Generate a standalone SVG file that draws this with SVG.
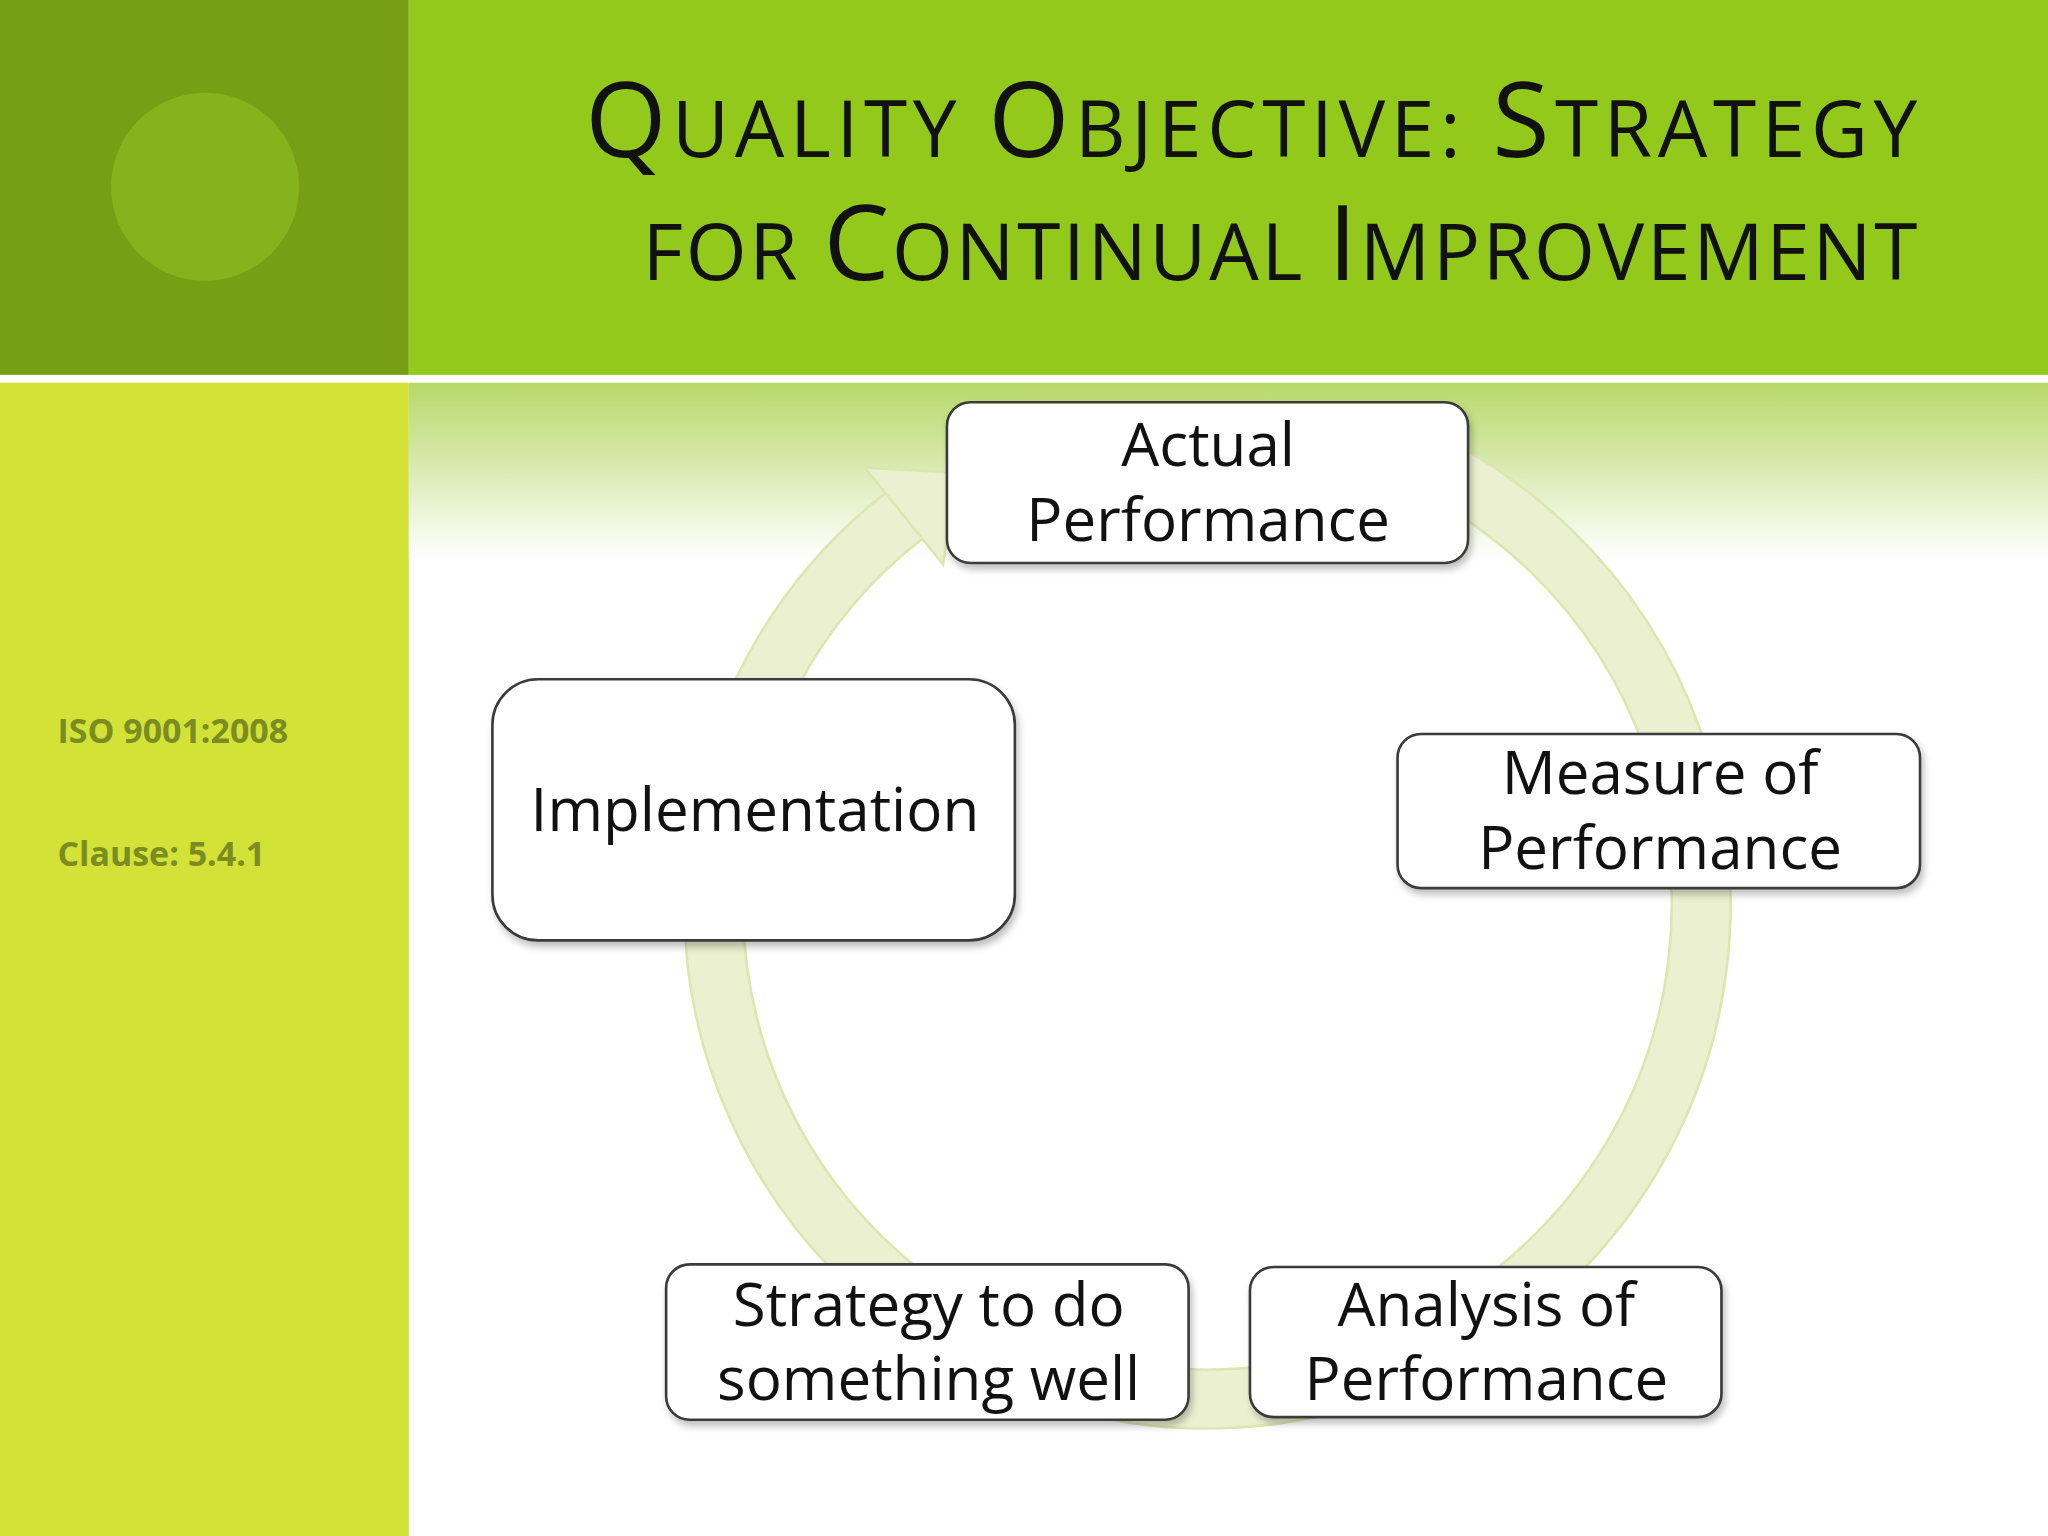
<svg xmlns="http://www.w3.org/2000/svg" width="2048" height="1536" viewBox="0 0 2048 1536">
<style>
.box{fill:#fff;stroke:#3a3a3a;stroke-width:2}
.lbl{font-family:"Open Sans","Liberation Sans",sans-serif;font-size:46px;fill:#111;text-anchor:middle}
.side{font-family:"Open Sans","Liberation Sans",sans-serif;font-size:26px;font-weight:bold;fill:#7a8c22}
.ttl{font-family:"Open Sans","Liberation Sans",sans-serif;fill:#111}
.c{font-size:80px}.s{font-size:60px}
</style>
<defs>
<linearGradient id="fade" x1="0" y1="0" x2="0" y2="1">
<stop offset="0" stop-color="#b6d86a"/><stop offset="1" stop-color="#ffffff"/>
</linearGradient>
<filter id="sh" x="-10%" y="-10%" width="120%" height="130%"><feDropShadow dx="2" dy="4" stdDeviation="3" flood-color="#000" flood-opacity="0.25"/></filter>
</defs>
<g transform="scale(1.30612)">
<rect x="0" y="0" width="1568" height="1176" fill="#fff"/>
<rect x="0" y="0" width="313" height="287" fill="#779f15"/>
<circle cx="157" cy="143" r="72" fill="#86b21b"/>
<rect x="313" y="0" width="1255" height="287" fill="#93c91a"/>
<rect x="0" y="293" width="313" height="883" fill="#d3e236"/>
<rect x="313" y="293" width="1255" height="135" fill="url(#fade)"/>
<text class="ttl" x="448" y="120" textLength="1020" lengthAdjust="spacing"><tspan class="c">Q</tspan><tspan class="s">UALITY </tspan><tspan class="c">O</tspan><tspan class="s">BJECTIVE: </tspan><tspan class="c">S</tspan><tspan class="s">TRATEGY</tspan></text>
<text class="ttl" x="492" y="214" textLength="976" lengthAdjust="spacing"><tspan class="s">FOR </tspan><tspan class="c">C</tspan><tspan class="s">ONTINUAL </tspan><tspan class="c">I</tspan><tspan class="s">MPROVEMENT</tspan></text>
<text class="side" x="44" y="569">ISO 9001:2008</text>
<text class="side" x="44" y="663">Clause: 5.4.1</text>
<g id="connectors">
<path d="M1054 338 A378 378 0 1 1 692 395" fill="none" stroke="#dce7b0" stroke-width="47"/>
<path d="M1054 338 A378 378 0 1 1 692 395" fill="none" stroke="#ebf1d0" stroke-width="43"/>
<polygon points="662,358 733,362 722,432" fill="#ebf1d0" stroke="#dce7b0" stroke-width="2"/>
</g>
<g id="actual"><rect class="box" filter="url(#sh)" x="725" y="308" width="399" height="123" rx="18"/>
<text class="lbl" x="925" y="357">Actual</text><text class="lbl" x="925" y="414">Performance</text></g>
<g id="measure"><rect class="box" filter="url(#sh)" x="1070" y="562" width="400" height="118" rx="18"/>
<text class="lbl" x="1271" y="608">Measure of</text><text class="lbl" x="1271" y="665">Performance</text></g>
<g id="implementation"><rect class="box" filter="url(#sh)" x="377" y="520" width="400" height="200" rx="35"/>
<text class="lbl" x="578" y="636">Implementation</text></g>
<g id="strategy"><rect class="box" filter="url(#sh)" x="510" y="968" width="400" height="119" rx="18"/>
<text class="lbl" x="711" y="1015">Strategy to do</text><text class="lbl" x="711" y="1072">something well</text></g>
<g id="analysis"><rect class="box" filter="url(#sh)" x="957" y="970" width="361" height="115" rx="18"/>
<text class="lbl" x="1138" y="1015">Analysis of</text><text class="lbl" x="1138" y="1072">Performance</text></g>
</g>
</svg>
